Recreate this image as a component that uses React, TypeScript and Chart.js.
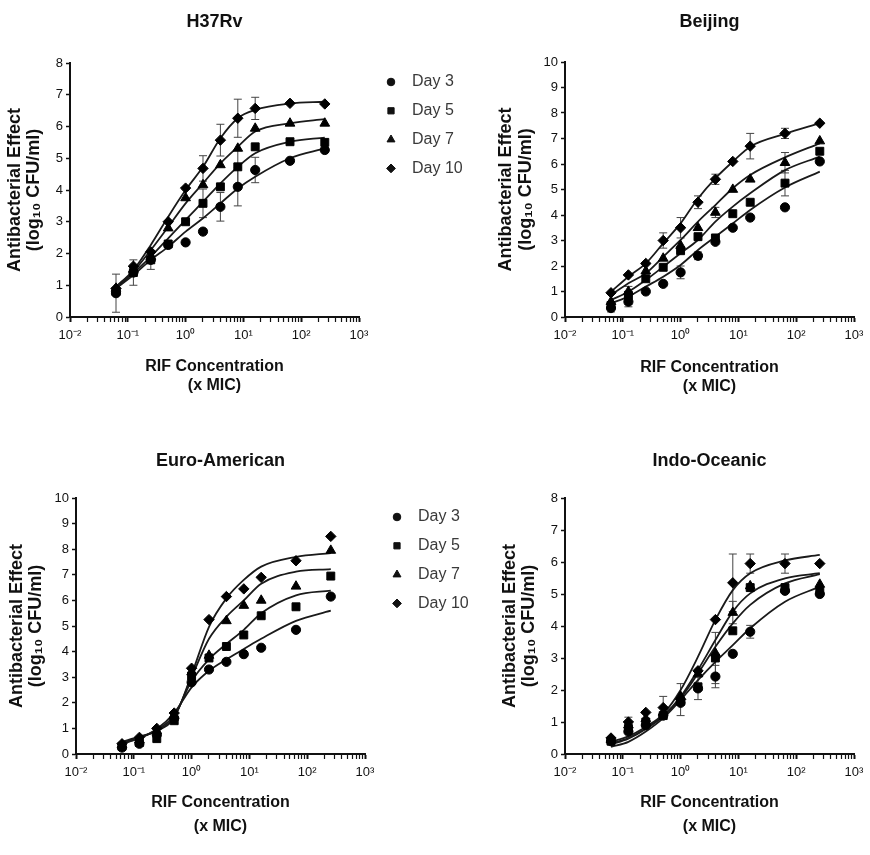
import { useEffect, useRef } from "react"
import { Chart, registerables } from "chart.js"
import { drawPoint } from "chart.js/helpers"

Chart.register(...registerables)

const FONT = '"Liberation Sans", Arial, Helvetica, sans-serif'
Chart.defaults.font.family = FONT
Chart.defaults.color = "#111"

// RIF concentrations (x MIC) tested in every panel
const conc = [0.0625, 0.125, 0.25, 0.5, 1, 2, 4, 8, 16, 64, 256]
const days = ["Day 3", "Day 5", "Day 7", "Day 10"]
const markers = ["circle", "rect", "triangle", "rectRot"]

// log axis ticks and the labels shown on the decades
const xTicks = [
  0.01, 0.02, 0.03, 0.04, 0.05, 0.06, 0.07, 0.08, 0.09,
  0.1, 0.2, 0.3, 0.4, 0.5, 0.6, 0.7, 0.8, 0.9,
  1, 2, 3, 4, 5, 6, 7, 8, 9,
  10, 20, 30, 40, 50, 60, 70, 80, 90,
  100, 200, 300, 400, 500, 600, 700, 800, 900,
  1000,
]
const xDecades = [0.01, 0.1, 1, 10, 100, 1000]
const xDecadeLabels = ["10⁻²", "10⁻¹", "10⁰", "10¹", "10²", "10³"]

// H37Rv — observed means (Day 3, 5, 7, 10), SD, fitted curves
const h37Points = [
  [0.75, 1.4, 1.8, 2.27, 2.35, 2.69, 3.47, 4.1, 4.63, 4.92, 5.26],
  [0.8, 1.4, 1.8, 2.3, 3.0, 3.58, 4.1, 4.73, 5.36, 5.52, 5.5],
  [0.9, 1.5, 1.9, 2.8, 3.75, 4.16, 4.79, 5.31, 5.94, 6.1, 6.1],
  [0.9, 1.6, 2.05, 3.0, 4.06, 4.68, 5.57, 6.26, 6.57, 6.73, 6.71],
]
const h37Errors = [
  [0.6, 0.4, 0.3, 0, 0, 0, 0.45, 0.6, 0.4, 0, 0],
  [0, 0, 0, 0, 0, 0.45, 0, 0.55, 0, 0, 0],
  [0, 0, 0, 0, 0, 0, 0, 0, 0, 0, 0],
  [0, 0, 0, 0, 0, 0.4, 0.5, 0.6, 0.35, 0, 0],
]
const h37Fits = [
  [0.9, 1.32, 1.8, 2.21, 2.69, 3.11, 3.58, 4.05, 4.42, 5.0, 5.31],
  [0.9, 1.38, 1.9, 2.48, 3.06, 3.63, 4.21, 4.73, 5.16, 5.52, 5.65],
  [0.95, 1.43, 2.11, 2.84, 3.58, 4.21, 4.84, 5.36, 5.84, 6.1, 6.23],
  [0.95, 1.48, 2.27, 3.16, 4.0, 4.73, 5.63, 6.26, 6.52, 6.72, 6.78],
]

// Beijing
const bjPoints = [
  [0.35, 0.6, 1.0, 1.3, 1.75, 2.4, 2.95, 3.5, 3.9, 4.3, 6.1],
  [0.45, 0.85, 1.5, 1.95, 2.6, 3.15, 3.1, 4.05, 4.5, 5.25, 6.5],
  [0.6, 1.0, 1.8, 2.3, 2.8, 3.5, 4.1, 5.0, 5.4, 6.05, 6.9],
  [0.95, 1.65, 2.1, 3.0, 3.5, 4.5, 5.4, 6.1, 6.7, 7.2, 7.6],
]
const bjErrors = [
  [0.15, 0.2, 0, 0, 0.25, 0.15, 0, 0, 0, 0, 0],
  [0, 0.35, 0, 0, 0, 0, 0, 0, 0, 0.5, 0],
  [0, 0, 0, 0, 0, 0, 0.2, 0, 0, 0.4, 0],
  [0, 0, 0, 0.3, 0.4, 0.25, 0.2, 0, 0.5, 0.2, 0],
]
const bjFits = [
  [0.54, 0.8, 1.19, 1.58, 2.04, 2.63, 3.15, 3.67, 4.2, 5.08, 5.7],
  [0.67, 0.99, 1.45, 1.97, 2.5, 3.02, 3.74, 4.33, 4.85, 5.76, 6.29],
  [0.86, 1.32, 1.71, 2.36, 3.02, 3.74, 4.39, 5.05, 5.57, 6.26, 6.81],
  [0.99, 1.58, 2.1, 2.89, 3.67, 4.65, 5.44, 6.09, 6.68, 7.18, 7.6],
]

// Euro-American
const euPoints = [
  [0.25, 0.4, 0.75, 1.4, 2.8, 3.3, 3.6, 3.9, 4.15, 4.85, 6.15],
  [0.3, 0.45, 0.6, 1.3, 3.05, 3.75, 4.2, 4.65, 5.4, 5.75, 6.95],
  [0.35, 0.55, 0.9, 1.5, 3.2, 3.85, 5.2, 5.8, 6.0, 6.55, 7.95],
  [0.4, 0.65, 1.0, 1.6, 3.35, 5.25, 6.15, 6.45, 6.9, 7.55, 8.5],
]
const euFits = [
  [0.4, 0.62, 0.98, 1.6, 2.6, 3.25, 3.7, 4.1, 4.5, 5.2, 5.6],
  [0.42, 0.62, 0.95, 1.5, 2.85, 3.7, 4.3, 4.85, 5.5, 6.2, 6.38],
  [0.45, 0.65, 0.92, 1.45, 3.0, 4.5, 5.36, 6.0, 6.65, 7.12, 7.22],
  [0.48, 0.68, 0.9, 1.42, 3.1, 4.97, 6.08, 6.8, 7.32, 7.7, 7.85],
]

// Indo-Oceanic
const ioPoints = [
  [0.4, 0.7, 0.9, 1.2, 1.6, 2.05, 2.42, 3.13, 3.82, 5.1, 5.0],
  [0.4, 0.8, 1.0, 1.2, 1.65, 2.1, 3.0, 3.85, 5.2, 5.2, 5.1],
  [0.45, 0.9, 1.1, 1.3, 1.8, 2.5, 3.15, 4.42, 5.25, 5.15, 5.3],
  [0.5, 1.0, 1.3, 1.45, 1.7, 2.6, 4.2, 5.35, 5.95, 5.95, 5.95],
]
const ioErrors = [
  [0, 0, 0, 0, 0, 0.35, 0.35, 0, 0.2, 0, 0],
  [0, 0, 0, 0, 0, 0, 0.8, 0, 0, 0, 0],
  [0, 0.25, 0, 0, 0, 0, 0, 0.35, 0, 0, 0],
  [0, 0, 0, 0.35, 0.5, 0, 0, 0.9, 0.3, 0.3, 0],
]
const ioFits = [
  [0.22, 0.38, 0.7, 1.12, 1.69, 2.31, 2.88, 3.4, 3.93, 4.76, 5.23],
  [0.3, 0.48, 0.78, 1.18, 1.74, 2.52, 3.35, 4.08, 4.66, 5.33, 5.62],
  [0.32, 0.5, 0.8, 1.2, 1.79, 2.63, 3.56, 4.45, 5.02, 5.49, 5.65],
  [0.38, 0.55, 0.85, 1.25, 2.0, 3.04, 4.19, 5.12, 5.65, 6.05, 6.22],
]

const markerRadius = [4.6, 5.6, 5.6, 5.2]
const legendRadius = [3.8, 4.4, 4.6, 4.4]

interface PanelSpec {
  title: string
  yMax: number
  points: number[][]
  fits: number[][]
  errors: number[][] | null
  legend: boolean
  // canvas box on the page and the wanted plot area inside it
  x: number
  y: number
  w: number
  h: number
  area: { l: number; r: number; t: number; b: number }
  titleY: number
  yTitleX: number
  yGap: number
  xTitleY: number
  xGap: number
}

const panels: PanelSpec[] = [
  {
    title: "H37Rv", yMax: 8, points: h37Points, fits: h37Fits, errors: h37Errors, legend: true,
    x: 0, y: 0, w: 480, h: 400, area: { l: 70, r: 359, t: 63, b: 317 },
    titleY: 22, yTitleX: 15, yGap: 19, xTitleY: 367, xGap: 19,
  },
  {
    title: "Beijing", yMax: 10, points: bjPoints, fits: bjFits, errors: bjErrors, legend: false,
    x: 480, y: 0, w: 390, h: 400, area: { l: 85, r: 374, t: 62, b: 317 },
    titleY: 22, yTitleX: 26, yGap: 20, xTitleY: 368, xGap: 19,
  },
  {
    title: "Euro-American", yMax: 10, points: euPoints, fits: euFits, errors: null, legend: true,
    x: 0, y: 430, w: 480, h: 425, area: { l: 76, r: 365, t: 68, b: 324 },
    titleY: 31, yTitleX: 17, yGap: 19, xTitleY: 373, xGap: 24,
  },
  {
    title: "Indo-Oceanic", yMax: 8, points: ioPoints, fits: ioFits, errors: ioErrors, legend: false,
    x: 480, y: 430, w: 390, h: 425, area: { l: 85, r: 374, t: 68, b: 324 },
    titleY: 31, yTitleX: 30, yGap: 19, xTitleY: 373, xGap: 24,
  },
]

// vertical SD bars with caps, drawn under the markers
const errorBarPlugin = {
  id: "errorBars",
  beforeDatasetsDraw(chart: any) {
    const { ctx, scales } = chart
    ctx.save()
    ctx.strokeStyle = "#444"
    ctx.lineWidth = 1
    chart.data.datasets.forEach((ds: any) => {
      if (!ds.errors) return
      ds.data.forEach((pt: { x: number; y: number }, j: number) => {
        const e = ds.errors[j]
        if (!e) return
        const px = scales.x.getPixelForValue(pt.x)
        const top = scales.y.getPixelForValue(pt.y + e)
        const bot = scales.y.getPixelForValue(pt.y - e)
        ctx.beginPath()
        ctx.moveTo(px, top)
        ctx.lineTo(px, bot)
        ctx.moveTo(px - 4, top)
        ctx.lineTo(px + 4, top)
        ctx.moveTo(px - 4, bot)
        ctx.lineTo(px + 4, bot)
        ctx.stroke()
      })
    })
    ctx.restore()
  },
}

// marker legend to the right of the plot area
const dayLegendPlugin = {
  id: "dayLegend",
  afterDraw(chart: any) {
    const { ctx, chartArea } = chart
    ctx.save()
    days.forEach((d, i) => {
      const y = chartArea.top + 19 + i * 28.8
      ctx.fillStyle = "#111"
      ctx.strokeStyle = "#111"
      ctx.lineWidth = 1
      drawPoint(ctx, { pointStyle: markers[i] as any, radius: legendRadius[i], rotation: 0, borderWidth: 1 }, chartArea.right + 32, y)
      ctx.fillStyle = "#3a3a3a"
      ctx.font = `16px ${FONT}`
      ctx.textAlign = "left"
      ctx.textBaseline = "middle"
      ctx.fillText(d, chartArea.right + 53, y)
    })
    ctx.restore()
  },
}

function buildConfig(p: PanelSpec): any {
  const fitSets = p.fits.map((f, i) => ({
    label: days[i] + " fit",
    data: conc.map((x, j) => ({ x, y: f[j] })),
    showLine: true,
    pointRadius: 0,
    borderColor: "#1a1a1a",
    borderWidth: 1.8,
    cubicInterpolationMode: "monotone",
    fill: false,
    order: 1,
  }))
  const pointSets = p.points.map((vals, i) => ({
    label: days[i],
    data: conc.map((x, j) => ({ x, y: vals[j] })),
    showLine: false,
    pointStyle: markers[i],
    pointRadius: markerRadius[i],
    pointBackgroundColor: "#000",
    pointBorderColor: "#000",
    pointBorderWidth: 1,
    errors: p.errors ? p.errors[i] : null,
    order: 0,
  }))

  const { area } = p
  return {
    type: "line",
    data: { datasets: [...fitSets, ...pointSets] },
    options: {
      responsive: false,
      animation: false,
      layout: { padding: { left: 0, top: 0, right: p.w - area.r, bottom: 0 } },
      scales: {
        x: {
          type: "logarithmic",
          min: 0.01,
          max: 1000,
          afterBuildTicks: (s: any) => {
            s.ticks = xTicks.map((v) => ({ value: v, major: xDecades.includes(v) }))
          },
          afterFit: (s: any) => {
            s.height = p.h - area.b
          },
          ticks: {
            autoSkip: false,
            maxRotation: 0,
            minRotation: 0,
            padding: 6,
            color: "#111",
            font: { size: 13 },
            callback: (v: number) => {
              const k = xDecades.indexOf(v)
              return k >= 0 ? xDecadeLabels[k] : ""
            },
          },
          grid: {
            drawOnChartArea: false,
            drawTicks: true,
            tickLength: 5,
            tickColor: "#111",
            tickWidth: (c: any) => (c.tick && xDecades.includes(c.tick.value) ? 2 : 1.2),
          },
          border: { display: true, color: "#111", width: 2 },
          title: {
            display: true,
            text: ["RIF Concentration", "(x MIC)"],
            color: "#111",
            font: { size: 16, weight: "bold", lineHeight: p.xGap / 16 },
            padding: { top: 0, bottom: p.h - p.xTitleY - 1.5 * p.xGap },
          },
        },
        y: {
          type: "linear",
          min: 0,
          max: p.yMax,
          afterFit: (s: any) => {
            s.width = area.l
          },
          ticks: { stepSize: 1, padding: 3, color: "#111", font: { size: 13 } },
          grid: { drawOnChartArea: false, drawTicks: true, tickLength: 4, tickColor: "#111", tickWidth: 1.5 },
          border: { display: true, color: "#111", width: 2 },
          title: {
            display: true,
            text: ["Antibacterial Effect", "(log₁₀ CFU/ml)"],
            color: "#111",
            font: { size: 18, weight: "bold", lineHeight: p.yGap / 18 },
            padding: { top: p.yTitleX - p.yGap / 2, bottom: 0 },
          },
        },
      },
      plugins: {
        legend: { display: false },
        tooltip: { enabled: false },
        title: {
          display: true,
          text: p.title,
          fullSize: false,
          color: "#111",
          font: { size: 18, weight: "bold", lineHeight: 1.2 },
          padding: { top: p.titleY - 10.8, bottom: area.t - p.titleY - 10.8 },
        },
      },
    },
    plugins: p.legend ? [errorBarPlugin, dayLegendPlugin] : [errorBarPlugin],
  }
}

function Panel({ spec }: { spec: PanelSpec }) {
  const canvasRef = useRef<HTMLCanvasElement>(null)

  useEffect(() => {
    if (!canvasRef.current) return
    const chart = new Chart(canvasRef.current, buildConfig(spec))
    return () => {
      chart.destroy()
    }
  }, [spec])

  return (
    <canvas
      ref={canvasRef}
      width={spec.w}
      height={spec.h}
      style={{ position: "absolute", left: spec.x, top: spec.y, width: spec.w, height: spec.h }}
    />
  )
}

export default function App() {
  return (
    <div style={{ position: "absolute", left: 0, top: 0, width: 870, height: 855, background: "#fff" }}>
      {panels.map((p) => (
        <Panel key={p.title} spec={p} />
      ))}
    </div>
  )
}
